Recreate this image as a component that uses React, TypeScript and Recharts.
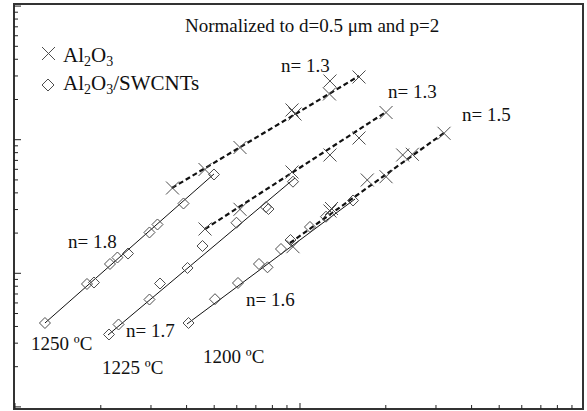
import React from 'react';
import { ScatterChart, Scatter, XAxis, YAxis, ReferenceArea, Customized } from 'recharts';

const W = 587;
const H = 411;

// Axis ranges (log-log, no tick labels in the original)
const X_DOMAIN: [number, number] = [0.992, 98.4];
const Y_DOMAIN: [number, number] = [0.09645, 103.69];
const xTicks = [1, 2, 3, 4, 5, 6, 7, 8, 9, 10, 20, 30, 40, 50, 60, 70, 80, 90];
const yTicks = [0.1, 0.2, 0.3, 0.4, 0.5, 0.6, 0.7, 0.8, 0.9, 1, 2, 3, 4, 5, 6, 7, 8, 9, 10, 20, 30, 40, 50, 60, 70, 80, 90, 100];

// 1250 °C
const swcnt1250 = [
  { x: 1.274, y: 0.4246 }, { x: 1.789, y: 0.8317 }, { x: 1.893, y: 0.8534 },
  { x: 2.154, y: 1.174 }, { x: 2.288, y: 1.313 }, { x: 2.492, y: 1.406 },
  { x: 2.964, y: 2.021 }, { x: 3.162, y: 2.319 }, { x: 3.902, y: 3.331 },
  { x: 4.991, y: 5.49 },
];
const alumina1250 = [
  { x: 3.57, y: 4.35 }, { x: 4.642, y: 5.983 }, { x: 6.158, y: 8.742 },
  { x: 9.374, y: 16.69 }, { x: 9.604, y: 15.57 }, { x: 12.74, y: 27.5 },
  { x: 12.69, y: 21.99 }, { x: 16.11, y: 29.47 },
];
const fitSwcnt1250 = [{ x: 1.274, y: 0.4246 }, { x: 4.991, y: 5.538 }];
const fitAlumina1250 = [{ x: 3.555, y: 4.35 }, { x: 16.11, y: 29.99 }];

// 1225 °C
const swcnt1225 = [
  { x: 2.137, y: 0.3483 }, { x: 2.308, y: 0.4138 }, { x: 2.964, y: 0.6366 },
  { x: 3.227, y: 0.8387 }, { x: 4.03, y: 1.096 }, { x: 4.549, y: 1.601 },
  { x: 5.986, y: 2.391 }, { x: 7.598, y: 3.134 }, { x: 7.753, y: 3.028 },
  { x: 9.45, y: 4.85 },
];
const alumina1225 = [
  { x: 4.642, y: 2.146 }, { x: 6.158, y: 3.013 }, { x: 9.374, y: 5.732 },
  { x: 12.74, y: 7.684 }, { x: 16.11, y: 10.3 }, { x: 20.04, y: 15.98 },
];
const fitSwcnt1225 = [{ x: 2.12, y: 0.3453 }, { x: 9.604, y: 5.168 }];
const fitAlumina1225 = [{ x: 4.642, y: 2.146 }, { x: 20.04, y: 16.12 }];

// 1200 °C
const swcnt1200 = [
  { x: 4.063, y: 0.4246 }, { x: 5.032, y: 0.64 }, { x: 6.06, y: 0.8461 },
  { x: 7.179, y: 1.174 }, { x: 7.691, y: 1.109 }, { x: 8.577, y: 1.52 },
  { x: 9.261, y: 1.775 }, { x: 10.84, y: 2.222 }, { x: 12.34, y: 2.653 },
  { x: 15.35, y: 3.507 },
];
const alumina1200 = [
  { x: 9.45, y: 1.582 }, { x: 12.74, y: 2.926 }, { x: 12.9, y: 3.055 },
  { x: 17.22, y: 4.993 }, { x: 20.04, y: 5.285 }, { x: 22.93, y: 7.684 },
  { x: 24.78, y: 7.777 }, { x: 32.01, y: 11.17 },
];
const fitSwcnt1200 = [{ x: 4.013, y: 0.4173 }, { x: 15.6, y: 3.598 }];
const fitAlumina1200 = [{ x: 9.224, y: 1.686 }, { x: 32.01, y: 11.22 }];

const MARKER = '#4d4d4d';
const FONT = '"Liberation Serif", "Times New Roman", serif';

const isMajor = (v: number) => Math.abs(Math.log10(v) - Math.round(Math.log10(v))) < 1e-6;

const XTick = (props: any) => {
  const { x, y, payload } = props;
  const len = isMajor(payload.value) ? 6 : 4;
  return <line x1={x} x2={x} y1={y} y2={y - len} stroke="#222" strokeWidth={1} />;
};
const YTick = (props: any) => {
  const { x, y, payload } = props;
  const len = isMajor(payload.value) ? 7 : 4;
  return <line x1={x} x2={x + len} y1={y} y2={y} stroke="#222" strokeWidth={1} />;
};

const Cross = (props: any) => {
  const { cx, cy } = props;
  const s = 6.5;
  return (
    <path
      d={`M${cx - s},${cy - s}L${cx + s},${cy + s}M${cx - s},${cy + s}L${cx + s},${cy - s}`}
      stroke={MARKER}
      strokeWidth={1}
      fill="none"
    />
  );
};
const Diamond = (props: any) => {
  const { cx, cy } = props;
  const s = 5.5;
  return (
    <path
      d={`M${cx},${cy - s}L${cx + s},${cy}L${cx},${cy + s}L${cx - s},${cy}Z`}
      stroke={MARKER}
      strokeWidth={1}
      fill="none"
    />
  );
};
const NoShape = () => <g />;

const solidLine = { stroke: '#111', strokeWidth: 1 };
const dashedLine = { stroke: '#111', strokeWidth: 2.2, strokeDasharray: '5 3' };

const Annotations = () => {
  const t = { fontFamily: FONT, fontSize: 19, fill: '#111' } as const;
  const lg = { fontFamily: FONT, fontSize: 21, fill: '#111' } as const;
  const sub = { fontSize: 14 } as const;
  return (
    <g>
      <text x={185} y={32} {...t}>Normalized to d=0.5 μm and p=2</text>
      {/* legend */}
      <path d="M42,47L55,60M42,60L55,47" stroke={MARKER} strokeWidth={1} fill="none" />
      <text x={63} y={62} {...lg}>
        Al<tspan {...sub} dy={4}>2</tspan><tspan dy={-4}>O</tspan><tspan {...sub} dy={4}>3</tspan>
      </text>
      <path d="M48,79L54,85L48,91L42,85Z" stroke={MARKER} strokeWidth={1} fill="none" />
      <text x={63} y={90} {...lg}>
        Al<tspan {...sub} dy={4}>2</tspan><tspan dy={-4}>O</tspan><tspan {...sub} dy={4}>3</tspan><tspan dy={-4}>/SWCNTs</tspan>
      </text>
      <text x={281} y={72} {...t}>n= 1.3</text>
      <text x={388} y={98} {...t}>n= 1.3</text>
      <text x={462} y={121} {...t}>n= 1.5</text>
      <text x={68} y={248} {...t}>n= 1.8</text>
      <text x={126} y={337} {...t}>n= 1.7</text>
      <text x={246} y={306} {...t}>n= 1.6</text>
      <text x={31} y={350} {...t}>1250 ºC</text>
      <text x={102} y={374} {...t}>1225 ºC</text>
      <text x={203} y={363} {...t}>1200 ºC</text>
    </g>
  );
};

export default function App() {
  return (
    <div style={{ position: 'absolute', left: 0, top: 0, width: W, height: H, background: '#fff' }}>
      <ScatterChart width={W} height={H} margin={{ top: 4, right: 4, bottom: 0, left: 0 }}>
        <XAxis
          type="number"
          dataKey="x"
          scale="log"
          domain={X_DOMAIN}
          allowDataOverflow
          ticks={xTicks}
          interval={0}
          tick={XTick}
          tickLine={false}
          axisLine={false}
          tickSize={0}
          tickMargin={0}
          height={2}
        />
        <YAxis
          type="number"
          dataKey="y"
          scale="log"
          domain={Y_DOMAIN}
          allowDataOverflow
          ticks={yTicks}
          interval={0}
          tick={YTick}
          tickLine={false}
          axisLine={false}
          tickSize={0}
          tickMargin={0}
          width={14}
        />
        <ReferenceArea
          x1={X_DOMAIN[0]}
          x2={X_DOMAIN[1]}
          y1={Y_DOMAIN[0]}
          y2={Y_DOMAIN[1]}
          fill="none"
          stroke="#333"
          strokeWidth={2}
          ifOverflow="visible"
        />
        <Scatter data={fitSwcnt1250} line={solidLine} shape={NoShape} isAnimationActive={false} />
        <Scatter data={fitSwcnt1225} line={solidLine} shape={NoShape} isAnimationActive={false} />
        <Scatter data={fitSwcnt1200} line={solidLine} shape={NoShape} isAnimationActive={false} />
        <Scatter data={fitAlumina1250} line={dashedLine} shape={NoShape} isAnimationActive={false} />
        <Scatter data={fitAlumina1225} line={dashedLine} shape={NoShape} isAnimationActive={false} />
        <Scatter data={fitAlumina1200} line={dashedLine} shape={NoShape} isAnimationActive={false} />
        <Scatter data={swcnt1250} shape={Diamond} isAnimationActive={false} />
        <Scatter data={swcnt1225} shape={Diamond} isAnimationActive={false} />
        <Scatter data={swcnt1200} shape={Diamond} isAnimationActive={false} />
        <Scatter data={alumina1250} shape={Cross} isAnimationActive={false} />
        <Scatter data={alumina1225} shape={Cross} isAnimationActive={false} />
        <Scatter data={alumina1200} shape={Cross} isAnimationActive={false} />
        <Customized component={Annotations} />
      </ScatterChart>
    </div>
  );
}
